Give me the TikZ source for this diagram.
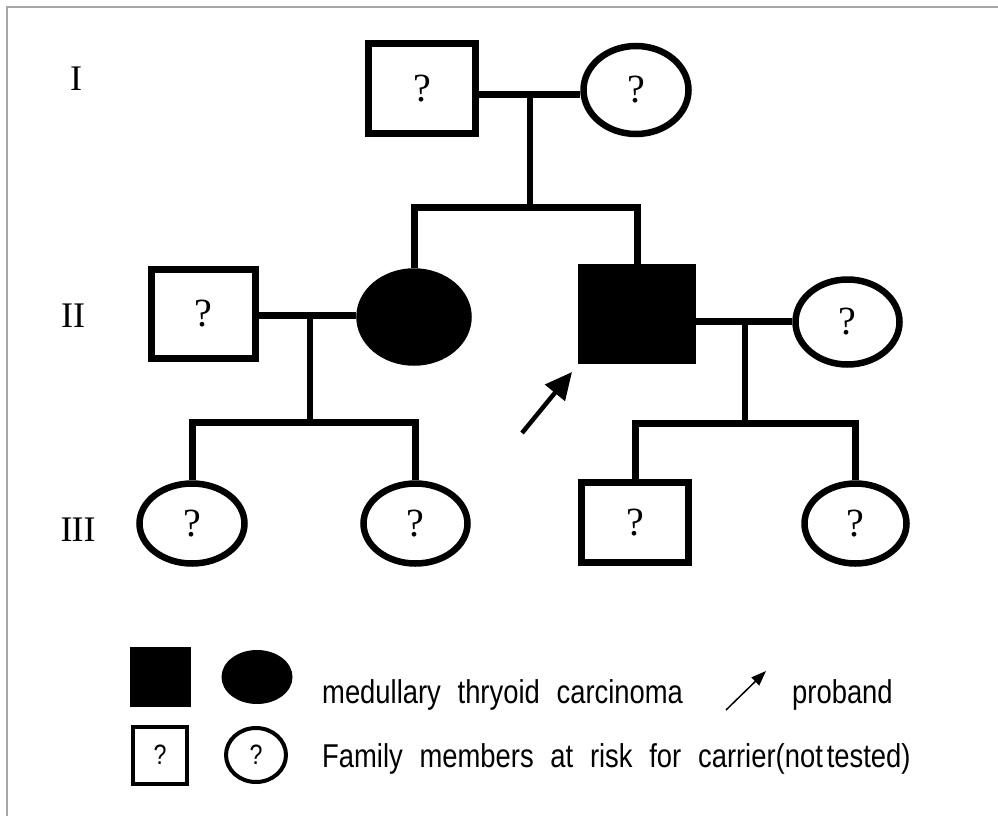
\documentclass[tikz,border=0pt]{standalone}
\usepackage{fontspec}
\setmainfont{Liberation Serif}
\newfontfamily\legfont[FakeStretch=0.83,WordSpace=2.2]{Liberation Sans}
\newfontfamily\qfont{Liberation Serif}
\usetikzlibrary{shapes.geometric,arrows.meta}
\begin{document}
\begin{tikzpicture}[x=1pt,y=-1pt,
  lw/.style={line width=7pt, line join=miter},
  male/.style={draw, line width=7pt, rectangle, inner sep=0pt, font=\qfont\fontsize{40}{40}\selectfont},
  female/.style={draw, line width=6.5pt, ellipse, inner sep=0pt, font=\qfont\fontsize{40}{40}\selectfont},
  aff/.style={fill=black},
  gen/.style={inner sep=0pt, font=\fontsize{36}{36}\selectfont},
  legq/.style={draw, line width=4pt, inner sep=0pt, font=\legfont\fontsize{28}{28}\selectfont},
  legtext/.style={inner sep=0pt, anchor=base west, font=\legfont\fontsize{33}{33}\selectfont}
]
\useasboundingbox (0,0) rectangle (998,816);
\fill[white] (0,0) rectangle (998,816);
\draw[gray!70, line width=2pt] (7,816) -- (7,7.5) -- (998,7.5);

% generation labels
\node[gen] (gI) at (76,79) {I};
\node[gen] (gII) at (73,316) {II};
\node[gen] (gIII) at (78,530) {I\kern-1pt II};

% generation I
\node[male, minimum width=107, minimum height=90] (I1) at (422,88.5) {?};
\node[female, minimum width=105, minimum height=88] (I2) at (636,90) {?};

% generation II
\node[male, minimum width=104, minimum height=89] (II1) at (203.5,314) {?};
\node[female, aff, minimum width=109, minimum height=91] (II2) at (414,317) {};
\node[male, aff, minimum width=111, minimum height=93] (II3) at (637,314) {};
\node[female, minimum width=104, minimum height=85] (II4) at (847.5,322) {?};

% generation III
\node[female, minimum width=105, minimum height=80] (III1) at (192,523.5) {?};
\node[female, minimum width=104, minimum height=80] (III2) at (415.5,523.5) {?};
\node[male, minimum width=107, minimum height=80] (III3) at (635,522.5) {?};
\node[female, minimum width=102, minimum height=80] (III4) at (855.5,523.5) {?};

% connectors
\coordinate (m1) at (530,94);
\coordinate (s1) at (530,207);
\draw[lw] (I1.east |- m1) -- (I2.west |- m1);
\draw[line width=5.5pt] (m1) -- (s1);
\draw[lw] (II2.north) |- (s1) -| (II3.north);

\coordinate (m2) at (310,315);
\coordinate (s2) at (310,422);
\draw[lw] (II1.east |- m2) -- (II2.west |- m2);
\draw[line width=5.5pt] (m2) -- (s2);
\draw[lw] (III1.north) |- (s2) -| (III2.north);

\coordinate (m3) at (745,321);
\coordinate (s3) at (745,423);
\draw[lw] (II3.east |- m3) -- (II4.west |- m3);
\draw[line width=5.5pt] (m3) -- (s3);
\draw[lw] (III3.north) |- (s3) -| (III4.north);

% proband arrow
\coordinate (pa) at (522,433);
\coordinate (pb) at (572,372);
\draw[line width=4.5pt, -{Triangle[length=27pt,width=25pt]}] (pa) -- (pb);

% legend
\node[aff, inner sep=0pt, minimum width=61, minimum height=60] (L1) at (160,677) {};
\node[aff, ellipse, inner sep=0pt, minimum width=71, minimum height=54] (L2) at (257,677) {};
\node[legq, rectangle, minimum width=54, minimum height=57] (L3) at (160,755) {?};
\node[legq, ellipse, minimum width=60, minimum height=54] (L4) at (256,755) {?};

\node[legtext] (t1) at (322,703) {medullary thryoid carcinoma};
\coordinate (la1) at (726,710);
\coordinate (la2) at (766,671);
\draw[line width=1.5pt, -{Triangle[length=15pt,width=11pt]}] (la1) -- (la2);
\node[legtext] (t2) at (792,703) {proband};
\node[legtext] (t3) at (322,767) {Family members at risk for carrier(not\hspace{0.12em}tested)};
\end{tikzpicture}
\end{document}
